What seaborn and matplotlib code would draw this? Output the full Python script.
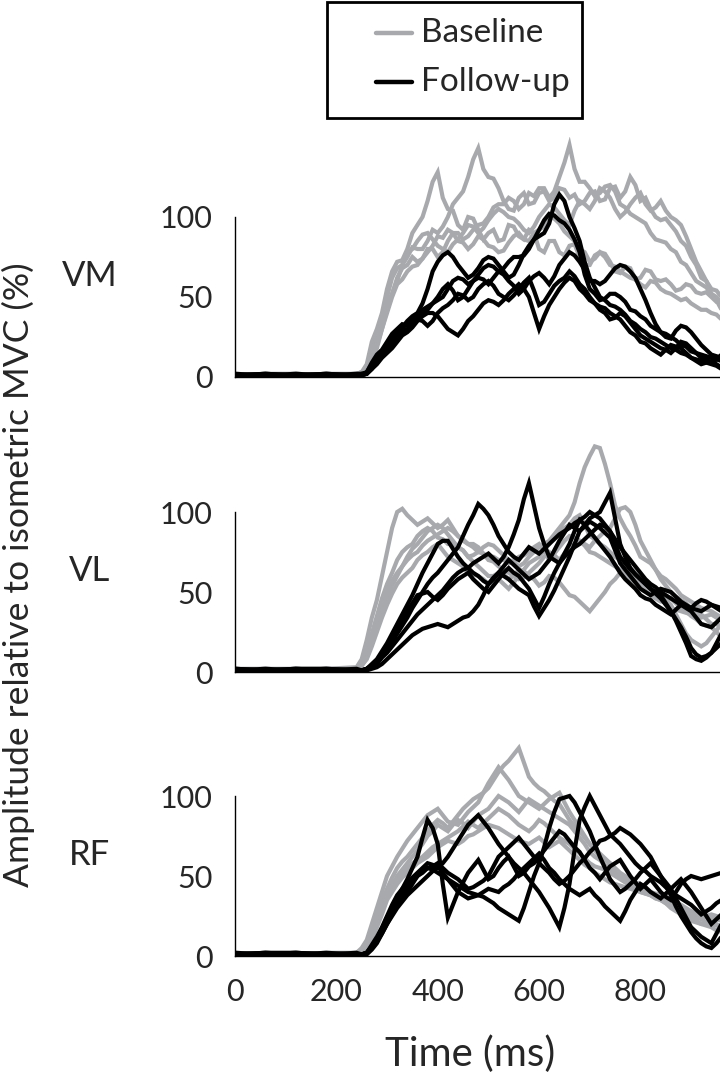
import pandas as pd
import seaborn as sns
import matplotlib.pyplot as plt
from matplotlib.lines import Line2D
from matplotlib.patches import Rectangle

# time axis (ms) shared by every trace
time_ms = [0, 60, 120, 180, 240,
           250, 260, 270, 280, 290, 300, 310, 320, 330, 340, 350, 360, 370, 380, 390, 400,
           410, 420, 430, 440, 450, 460, 470, 480, 490, 500, 510, 520, 530, 540, 550, 560,
           570, 580, 590, 600, 610, 620, 630, 640, 650, 660, 670, 680, 690, 700, 710, 720,
           730, 740, 750, 760, 770, 780, 790, 800, 810, 820, 830, 840, 850, 860, 870, 880,
           890, 900, 910, 920, 930, 940, 950, 960]

# VM - vastus medialis
vm_baseline = [
    [1, 2, 1, 2, 2, 3, 8, 22, 30, 40, 55, 66, 72, 73, 80, 90, 95, 100, 110, 122, 128,
     112, 105, 104, 95, 92, 100, 99, 92, 86, 90, 92, 85, 86, 95, 94, 88, 86, 92, 90, 80,
     78, 85, 85, 78, 76, 82, 83, 75, 70, 70, 76, 78, 77, 72, 66, 65, 69, 68, 61, 62,
     67, 66, 61, 60, 61, 58, 54, 55, 58, 57, 53, 52, 53, 50, 47, 48],
    [2, 1, 2, 1, 2, 3, 6, 17, 25, 36, 50, 62, 68, 70, 75, 81, 80, 80, 85, 92, 90,
     94, 100, 108, 112, 116, 125, 136, 143, 130, 125, 124, 118, 110, 105, 104, 112, 115, 108, 109, 115,
     116, 110, 112, 118, 117, 112, 114, 108, 110, 115, 116, 110, 111, 118, 119, 112, 116, 125, 120, 110,
     112, 105, 100, 98, 99, 95, 91, 85, 82, 75, 70, 62, 60, 55, 54, 50],
    [1, 1, 2, 1, 1, 2, 5, 12, 22, 36, 45, 52, 62, 68, 70, 75, 72, 74, 80, 80, 75,
     78, 85, 90, 90, 86, 88, 92, 95, 96, 100, 106, 108, 108, 112, 110, 105, 108, 115, 113, 118,
     118, 112, 116, 125, 134, 145, 130, 122, 122, 118, 113, 115, 119, 120, 116, 108, 106, 102, 100, 98,
     96, 90, 86, 85, 84, 80, 78, 72, 70, 65, 60, 58, 56, 52, 48, 42],
    [2, 1, 1, 2, 1, 2, 4, 10, 18, 30, 40, 50, 58, 61, 66, 69, 70, 74, 78, 82, 88,
     87, 92, 90, 85, 84, 80, 83, 88, 86, 82, 81, 78, 79, 84, 88, 90, 86, 85, 90, 92,
     94, 100, 99, 96, 91, 88, 85, 80, 78, 72, 74, 78, 75, 70, 69, 66, 64, 62, 61, 58,
     56, 60, 59, 55, 53, 52, 50, 48, 49, 46, 44, 42, 42, 40, 39, 36],
    [1, 2, 2, 1, 2, 3, 5, 13, 20, 30, 42, 52, 60, 70, 78, 80, 85, 89, 90, 86, 82,
     80, 78, 83, 86, 90, 95, 94, 90, 93, 98, 102, 105, 103, 100, 99, 96, 92, 90, 94, 100,
     104, 108, 106, 102, 98, 95, 104, 110, 108, 105, 110, 118, 116, 112, 105, 100, 103, 108, 112, 115,
     108, 104, 106, 110, 104, 100, 98, 95, 88, 80, 72, 66, 60, 52, 50, 46],
]
vm_followup = [
    [1, 1, 2, 1, 1, 1, 3, 8, 12, 15, 20, 25, 28, 30, 34, 37, 38, 39, 42, 46, 48,
     50, 55, 60, 62, 61, 58, 60, 64, 68, 70, 69, 66, 68, 72, 75, 75, 76, 80, 86, 88,
     90, 96, 108, 114, 110, 100, 93, 85, 72, 62, 56, 50, 48, 45, 44, 42, 39, 35, 33, 30,
     28, 25, 24, 22, 20, 18, 17, 15, 14, 12, 11, 10, 9, 8, 7, 5],
    [1, 2, 1, 1, 2, 2, 2, 5, 10, 15, 18, 20, 25, 31, 35, 38, 40, 46, 55, 66, 72,
     76, 78, 75, 70, 66, 62, 64, 68, 73, 75, 74, 70, 66, 62, 64, 70, 77, 82, 86, 92,
     98, 102, 101, 98, 96, 92, 86, 78, 64, 55, 52, 48, 49, 52, 52, 50, 47, 42, 41, 38,
     36, 32, 30, 28, 27, 25, 23, 20, 19, 16, 15, 14, 13, 12, 11, 10],
    [2, 1, 1, 2, 1, 1, 2, 5, 8, 12, 15, 18, 22, 26, 28, 31, 35, 38, 40, 40, 38,
     34, 30, 28, 26, 30, 35, 38, 42, 46, 48, 47, 45, 48, 52, 55, 58, 55, 50, 40, 30,
     38, 45, 50, 55, 59, 62, 60, 55, 52, 48, 46, 44, 43, 40, 38, 36, 32, 28, 26, 22,
     21, 18, 16, 14, 17, 20, 19, 18, 15, 12, 10, 8, 9, 10, 8, 6],
    [1, 1, 1, 2, 1, 2, 3, 9, 14, 17, 22, 27, 30, 33, 32, 34, 38, 42, 44, 46, 50,
     55, 58, 54, 48, 50, 55, 60, 62, 61, 58, 62, 66, 64, 60, 57, 52, 55, 60, 63, 65,
     62, 58, 63, 70, 74, 78, 76, 72, 67, 60, 60, 58, 60, 64, 68, 70, 69, 66, 62, 55,
     48, 40, 33, 28, 25, 24, 29, 32, 31, 28, 24, 20, 17, 14, 13, 12],
    [1, 2, 1, 1, 1, 1, 2, 6, 9, 13, 18, 22, 25, 28, 30, 33, 36, 35, 32, 35, 40,
     43, 45, 48, 52, 51, 48, 50, 55, 58, 60, 57, 52, 50, 48, 51, 55, 59, 62, 54, 45,
     47, 52, 57, 60, 62, 66, 63, 58, 55, 50, 46, 42, 40, 36, 37, 40, 38, 34, 30, 26,
     24, 22, 20, 18, 17, 15, 18, 22, 21, 18, 15, 12, 11, 9, 11, 14],
]

# VL - vastus lateralis
vl_baseline = [
    [1, 2, 1, 2, 3, 8, 20, 34, 45, 60, 75, 90, 100, 102, 98, 95, 92, 94, 96, 93, 90,
     92, 95, 90, 85, 83, 80, 78, 75, 74, 72, 72, 70, 70, 68, 69, 72, 73, 75, 78, 80,
     76, 70, 74, 78, 82, 85, 84, 82, 80, 78, 82, 85, 88, 90, 96, 102, 103, 100, 92, 82,
     76, 70, 64, 58, 54, 50, 47, 45, 43, 40, 38, 36, 33, 30, 30, 28],
    [2, 1, 2, 1, 2, 6, 12, 24, 35, 46, 55, 62, 70, 75, 78, 80, 85, 88, 90, 88, 84,
     83, 80, 80, 78, 76, 72, 73, 75, 78, 80, 79, 76, 73, 70, 69, 66, 68, 72, 75, 78,
     80, 82, 86, 90, 94, 98, 106, 118, 128, 135, 141, 140, 130, 118, 104, 96, 90, 85, 79, 72,
     70, 68, 64, 60, 58, 55, 52, 48, 46, 44, 42, 40, 39, 38, 36, 34],
    [1, 1, 2, 2, 2, 5, 10, 20, 30, 40, 50, 57, 62, 66, 72, 77, 80, 84, 88, 90, 92,
     90, 86, 82, 78, 76, 72, 69, 66, 63, 60, 60, 62, 61, 58, 60, 64, 63, 60, 58, 54,
     56, 60, 59, 56, 52, 48, 47, 44, 41, 38, 42, 46, 50, 55, 58, 62, 61, 58, 56, 54,
     52, 48, 46, 44, 44, 46, 43, 40, 38, 35, 33, 30, 29, 28, 25, 22],
    [2, 2, 1, 1, 2, 4, 8, 16, 25, 34, 42, 49, 55, 59, 62, 65, 70, 73, 75, 78, 80,
     76, 72, 70, 68, 66, 62, 61, 60, 58, 55, 56, 58, 55, 52, 56, 60, 64, 68, 70, 72,
     76, 80, 85, 88, 90, 92, 96, 98, 92, 85, 83, 80, 78, 75, 72, 70, 68, 65, 62, 58,
     55, 52, 50, 48, 45, 42, 36, 30, 24, 20, 18, 16, 18, 22, 26, 30],
    [1, 2, 2, 1, 1, 4, 9, 18, 28, 38, 46, 54, 60, 66, 70, 73, 75, 79, 82, 84, 86,
     88, 90, 88, 85, 82, 80, 80, 78, 74, 70, 69, 66, 64, 62, 60, 58, 59, 62, 65, 68,
     72, 75, 73, 70, 74, 78, 80, 82, 79, 75, 74, 72, 70, 68, 66, 64, 62, 60, 58, 55,
     54, 52, 49, 46, 43, 40, 39, 38, 37, 36, 35, 34, 35, 36, 34, 32],
]
vl_followup = [
    [1, 1, 2, 1, 1, 1, 2, 3, 5, 9, 12, 16, 20, 24, 28, 32, 36, 39, 42, 45, 48,
     51, 55, 59, 62, 64, 65, 68, 70, 72, 74, 71, 68, 72, 78, 86, 95, 108, 118, 104, 90,
     80, 72, 70, 68, 72, 75, 78, 80, 83, 86, 89, 92, 91, 88, 83, 78, 74, 70, 66, 62,
     58, 55, 53, 50, 48, 46, 44, 42, 41, 40, 39, 38, 40, 42, 41, 40],
    [1, 2, 1, 1, 2, 1, 2, 4, 6, 10, 14, 19, 24, 29, 34, 40, 45, 50, 55, 59, 62,
     66, 70, 74, 78, 85, 92, 98, 105, 102, 98, 92, 85, 80, 75, 72, 70, 74, 78, 76, 74,
     77, 80, 83, 86, 88, 90, 93, 95, 97, 100, 98, 96, 92, 88, 80, 72, 68, 64, 61, 58,
     55, 52, 49, 46, 42, 38, 33, 28, 22, 15, 11, 9, 10, 12, 15, 18],
    [2, 1, 1, 1, 1, 1, 1, 2, 3, 5, 8, 11, 14, 17, 20, 23, 25, 27, 28, 29, 30,
     29, 28, 30, 32, 34, 35, 38, 42, 48, 55, 59, 62, 60, 58, 55, 52, 50, 48, 41, 35,
     40, 45, 51, 58, 65, 72, 80, 88, 92, 96, 98, 100, 106, 112, 96, 80, 72, 65, 61, 58,
     55, 52, 50, 48, 43, 38, 32, 25, 18, 10, 8, 7, 9, 12, 18, 24],
    [1, 1, 2, 2, 1, 1, 2, 5, 8, 13, 18, 24, 30, 36, 42, 48, 55, 62, 68, 74, 80,
     82, 82, 77, 72, 68, 65, 62, 60, 57, 55, 58, 62, 66, 70, 67, 64, 61, 58, 60, 62,
     66, 70, 76, 82, 87, 92, 90, 88, 91, 94, 92, 90, 87, 84, 76, 68, 64, 60, 56, 52,
     50, 48, 50, 52, 51, 50, 47, 44, 42, 40, 43, 45, 44, 42, 40, 38],
    [2, 1, 1, 2, 1, 1, 2, 4, 6, 10, 15, 20, 26, 32, 38, 43, 48, 49, 50, 47, 45,
     48, 52, 55, 58, 60, 62, 58, 55, 52, 50, 54, 58, 62, 65, 62, 60, 56, 52, 46, 40,
     47, 55, 62, 68, 74, 80, 88, 95, 92, 88, 84, 80, 76, 72, 67, 62, 58, 55, 52, 48,
     46, 45, 42, 40, 38, 36, 39, 42, 40, 38, 34, 30, 29, 28, 31, 34],
]

# RF - rectus femoris
rf_baseline = [
    [1, 2, 1, 2, 2, 4, 8, 16, 25, 34, 42, 49, 55, 59, 62, 66, 70, 74, 78, 82, 85,
     83, 80, 84, 88, 92, 95, 98, 100, 102, 105, 110, 115, 119, 122, 126, 130, 121, 112, 108, 105,
     103, 100, 97, 95, 90, 85, 81, 78, 74, 70, 66, 62, 60, 58, 55, 52, 50, 48, 46, 45,
     42, 40, 38, 36, 34, 32, 30, 28, 26, 24, 22, 20, 19, 18, 16, 15],
    [2, 1, 2, 1, 2, 5, 10, 20, 30, 40, 50, 56, 62, 67, 72, 76, 80, 84, 88, 90, 92,
     88, 84, 83, 82, 86, 90, 93, 96, 102, 108, 113, 118, 114, 110, 105, 100, 98, 96, 94, 92,
     95, 98, 100, 102, 96, 90, 85, 80, 75, 70, 67, 64, 61, 58, 54, 50, 48, 46, 44, 42,
     40, 38, 36, 35, 33, 30, 28, 26, 24, 22, 21, 20, 21, 22, 20, 18],
    [1, 1, 2, 1, 1, 3, 6, 13, 20, 29, 38, 44, 50, 54, 58, 62, 66, 70, 75, 78, 82,
     80, 78, 82, 85, 83, 80, 84, 88, 90, 92, 96, 100, 98, 96, 93, 90, 94, 98, 96, 94,
     92, 90, 88, 86, 84, 82, 78, 74, 70, 65, 62, 60, 57, 55, 52, 50, 48, 45, 44, 44,
     42, 40, 39, 38, 36, 35, 33, 32, 30, 28, 26, 25, 24, 24, 23, 22],
    [2, 1, 1, 2, 1, 4, 7, 15, 22, 31, 40, 44, 48, 52, 55, 58, 60, 62, 65, 68, 70,
     72, 74, 76, 78, 81, 84, 82, 80, 83, 86, 89, 92, 90, 88, 85, 82, 80, 78, 81, 85,
     83, 80, 77, 74, 72, 70, 67, 64, 61, 58, 56, 55, 54, 52, 50, 48, 46, 44, 42, 40,
     39, 38, 37, 36, 35, 34, 32, 30, 28, 26, 24, 23, 21, 20, 19, 18],
    [1, 2, 1, 1, 2, 3, 5, 11, 18, 26, 35, 40, 45, 49, 52, 55, 58, 60, 62, 65, 68,
     70, 72, 71, 70, 72, 75, 76, 78, 80, 82, 81, 80, 78, 76, 74, 72, 71, 70, 72, 74,
     71, 68, 70, 72, 69, 66, 63, 60, 57, 55, 52, 50, 48, 46, 45, 44, 43, 42, 41, 40,
     39, 38, 36, 35, 33, 32, 31, 30, 29, 28, 26, 25, 25, 26, 25, 24],
]
rf_followup = [
    [1, 1, 2, 1, 1, 1, 2, 6, 10, 16, 22, 28, 35, 42, 48, 55, 62, 74, 85, 80, 70,
     45, 24, 32, 40, 46, 52, 56, 60, 54, 48, 50, 55, 59, 62, 56, 50, 52, 56, 58, 62,
     66, 70, 74, 78, 76, 72, 68, 65, 60, 55, 52, 48, 52, 56, 58, 60, 55, 50, 46, 42,
     45, 48, 44, 40, 37, 35, 40, 45, 48, 50, 49, 48, 49, 50, 51, 52],
    [1, 2, 1, 1, 2, 1, 2, 7, 12, 18, 25, 32, 38, 42, 45, 49, 52, 55, 58, 57, 55,
     58, 62, 67, 72, 77, 82, 85, 88, 84, 80, 75, 70, 66, 62, 58, 55, 52, 48, 44, 40,
     35, 30, 24, 18, 30, 45, 66, 85, 93, 100, 94, 88, 82, 76, 73, 70, 66, 62, 58, 55,
     53, 50, 48, 46, 43, 40, 38, 36, 34, 32, 29, 26, 28, 30, 33, 35],
    [2, 1, 1, 1, 1, 1, 1, 4, 8, 14, 20, 26, 32, 36, 40, 45, 50, 53, 55, 54, 52,
     50, 48, 46, 44, 42, 40, 39, 38, 37, 35, 33, 30, 28, 26, 24, 22, 30, 40, 50, 58,
     68, 80, 90, 98, 99, 100, 96, 90, 84, 78, 70, 62, 55, 48, 44, 40, 42, 45, 48, 52,
     55, 58, 54, 50, 46, 42, 36, 30, 24, 18, 15, 12, 10, 8, 14, 20],
    [1, 1, 1, 2, 1, 1, 2, 6, 10, 17, 24, 30, 36, 39, 42, 46, 50, 52, 55, 56, 58,
     55, 52, 50, 48, 45, 42, 43, 45, 47, 50, 56, 62, 65, 68, 71, 74, 70, 66, 62, 58,
     55, 52, 48, 45, 47, 50, 54, 58, 61, 65, 68, 72, 73, 75, 77, 80, 78, 76, 73, 70,
     66, 62, 56, 50, 44, 38, 31, 25, 20, 15, 11, 8, 6, 5, 8, 12],
    [1, 2, 2, 1, 1, 1, 2, 5, 9, 14, 20, 25, 30, 34, 38, 41, 44, 47, 50, 53, 56,
     52, 48, 44, 40, 38, 36, 37, 38, 40, 42, 41, 40, 43, 45, 48, 52, 55, 58, 61, 64,
     60, 55, 52, 48, 45, 42, 40, 38, 40, 42, 38, 35, 31, 28, 25, 22, 28, 35, 40, 45,
     43, 40, 38, 36, 39, 42, 45, 48, 44, 40, 35, 30, 25, 20, 23, 26],
]

muscles = ["VM", "VL", "RF"]
groups = ["Baseline", "Follow-up"]
colors = {"Baseline": "#a7a9ac", "Follow-up": "black"}


def to_long(baseline, followup):
    rows = []
    for group, traces in zip(groups, [baseline, followup]):
        for k, trace in enumerate(traces):
            assert len(trace) == len(time_ms), (group, k, len(trace))
            for t, v in zip(time_ms, trace):
                rows.append({"time": t, "amp": v, "group": group, "trace": f"{group}{k}"})
    return pd.DataFrame(rows)


sns.set_theme(style="white")
plt.rcParams["font.family"] = ["Lato", "DejaVu Sans"]

fig = plt.figure(figsize=(7.2, 10.85), dpi=100)
bottoms = [1 - 377 / 1085, 1 - 672 / 1085, 1 - 956 / 1085]
data = [(vm_baseline, vm_followup), (vl_baseline, vl_followup), (rf_baseline, rf_followup)]

for i, (name, (base, follow), b) in enumerate(zip(muscles, data, bottoms)):
    ax = fig.add_axes([235 / 720, b, 485 / 720, 240 / 1085])
    df = to_long(base, follow)
    sns.lineplot(data=df, x="time", y="amp", hue="group", units="trace", estimator=None,
                 hue_order=groups, palette=colors, legend=False, ax=ax)
    for line in ax.lines:
        line.set_linewidth(3.0)
        line.set_solid_joinstyle("miter")
    ax.set_xlim(0, 957)
    ax.set_ylim(0, 150)
    sns.despine(ax=ax)
    ax.spines["left"].set_bounds(0, 100)
    for s in ["left", "bottom"]:
        ax.spines[s].set_linewidth(1.0)
        ax.spines[s].set_color("black")
    ax.set_yticks([0, 50, 100])
    ax.set_xticks([0, 200, 400, 600, 800])
    ax.tick_params(axis="y", direction="in", length=4, width=1, pad=16, labelsize=22)
    ax.tick_params(axis="x", direction="in", length=10, width=1, pad=16, labelsize=22,
                   labelbottom=(i == 2))
    ax.set_ylabel("")
    ax.set_xlabel("")
    ax.text(-0.30, 63, name, transform=ax.get_yaxis_transform(), ha="center", va="center",
            fontsize=25)
    if i == 2:
        ax.set_xlabel("Time (ms)", fontsize=29, labelpad=14)
        ax.xaxis.set_label_coords(0.485, -0.33)

fig.text(0.025, 0.47, "Amplitude relative to isometric MVC (%)", rotation=90,
         ha="center", va="center", fontsize=25.5)

# legend box
fig.add_artist(Rectangle((327 / 720, 1 - 118 / 1085), 255 / 720, 116 / 1085,
                         transform=fig.transFigure, fill=False, lw=2, ec="black"))
for y, g in zip([33, 82], groups):
    fig.add_artist(Line2D([376 / 720, 412 / 720], [1 - y / 1085] * 2, transform=fig.transFigure,
                          color=colors[g], lw=3.2))
    fig.text(421 / 720, 1 - y / 1085, g, ha="left", va="center", fontsize=24)

fig.savefig("out.png", dpi=100)
